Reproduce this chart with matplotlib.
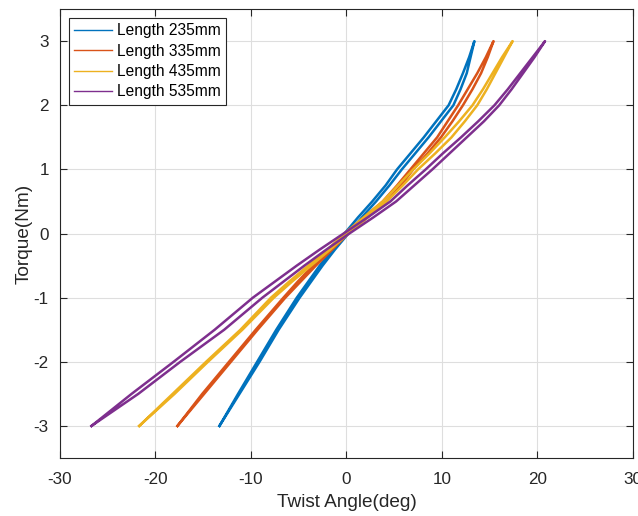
import matplotlib.pyplot as plt
import numpy as np

plt.rcParams['font.family'] = ['Liberation Sans', 'DejaVu Sans']
plt.rcParams['axes.unicode_minus'] = False

torque = [-3, -2.5, -2, -1.5, -1, -0.75, -0.5, -0.25, 0, 0.25, 0.5, 0.75,
          1, 1.25, 1.5, 1.75, 2, 2.25, 2.5, 2.75, 3]

# twist angle (deg), loading branch (right) and unloading branch (left)
l235_up = [-13.3, -11.2, -9.1, -7.1, -4.9, -3.7, -2.5, -1.2, 0.2, 1.6, 3.1, 4.5,
           5.8, 7.2, 8.6, 9.9, 11.2, 11.95, 12.6, 13.0, 13.4]
l235_dn = [-13.3, -11.35, -9.35, -7.35, -5.2, -4.0, -2.8, -1.5, -0.2, 1.2, 2.7, 4.1,
           5.3, 6.7, 8.1, 9.4, 10.7, 11.5, 12.2, 12.85, 13.4]

l335_up = [-17.7, -14.9, -12.1, -9.3, -6.4, -4.8, -3.2, -1.5, 0.2, 2.2, 4.2, 5.7,
           7.0, 8.5, 9.9, 11.1, 12.2, 13.2, 14.1, 14.8, 15.4]
l335_dn = [-17.7, -15.1, -12.3, -9.5, -6.6, -5.1, -3.5, -1.8, -0.2, 1.8, 3.8, 5.3,
           6.7, 8.1, 9.5, 10.6, 11.7, 12.7, 13.7, 14.6, 15.4]

l435_up = [-21.7, -18.0, -14.5, -10.9, -7.6, -5.7, -3.7, -1.7, 0.2, 2.2, 4.2, 5.9,
           7.5, 9.3, 11.0, 12.4, 13.7, 14.7, 15.6, 16.5, 17.4]
l435_dn = [-21.7, -18.2, -14.7, -11.1, -7.9, -6.0, -4.0, -2.0, -0.2, 1.8, 3.8, 5.4,
           7.0, 8.7, 10.3, 11.8, 13.2, 14.3, 15.3, 16.3, 17.4]

l535_up = [-26.7, -21.8, -17.4, -12.8, -8.8, -6.6, -4.4, -2.1, 0.3, 2.8, 5.2, 7.1,
           9.0, 10.8, 12.6, 14.4, 16.0, 17.3, 18.5, 19.7, 20.8]
l535_dn = [-26.7, -22.5, -18.1, -13.8, -9.8, -7.5, -5.2, -2.8, -0.3, 2.2, 4.6, 6.4,
           8.3, 10.1, 12.0, 13.8, 15.5, 16.9, 18.2, 19.5, 20.8]

labels = ['Length 235mm', 'Length 335mm', 'Length 435mm', 'Length 535mm']
colors = ['#0072BD', '#D95319', '#EDB120', '#7E2F8E']

fig = plt.figure(figsize=(6.38, 5.16), dpi=100)
ax = fig.add_axes([0.094, 0.1124, 0.898, 0.870])

loops = [(l235_up, l235_dn), (l335_up, l335_dn), (l435_up, l435_dn), (l535_up, l535_dn)]
for (up, dn), lab, c in zip(loops, labels, colors):
  x = np.array(up + dn[::-1])
  y = np.array(torque + torque[::-1])
  ax.plot(x, y, color=c, lw=1.8, label=lab, solid_joinstyle='round')

ax.set_xlim(-30, 30)
ax.set_ylim(-3.5, 3.5)
ax.set_xticks(np.arange(-30, 31, 10))
ax.set_yticks(np.arange(-3, 4, 1))
ax.grid(True, color='#dedede', lw=0.8)
ax.set_axisbelow(True)

dark = '#262626'
for s in ax.spines.values():
  s.set_color(dark)
  s.set_linewidth(0.8)
ax.tick_params(direction='in', length=5, width=0.8, color=dark, labelcolor=dark,
               labelsize=12.3, top=True, right=True)
ax.tick_params(axis='x', pad=10)
ax.tick_params(axis='y', pad=8)

ax.set_xlabel('Twist Angle(deg)', fontsize=13.7, color=dark, labelpad=5)
ax.set_ylabel('Torque(Nm)', fontsize=13.7, color=dark, labelpad=1)

leg = ax.legend(loc='upper left', fontsize=11.2, fancybox=False, framealpha=1,
                edgecolor=dark, handlelength=2.45, handletextpad=0.3,
                labelspacing=0.35, borderaxespad=0.55, borderpad=0.35)
leg.get_frame().set_linewidth(0.8)
for h in leg.get_lines():
  h.set_linewidth(1.0)

fig.savefig('out.png', dpi=100)
